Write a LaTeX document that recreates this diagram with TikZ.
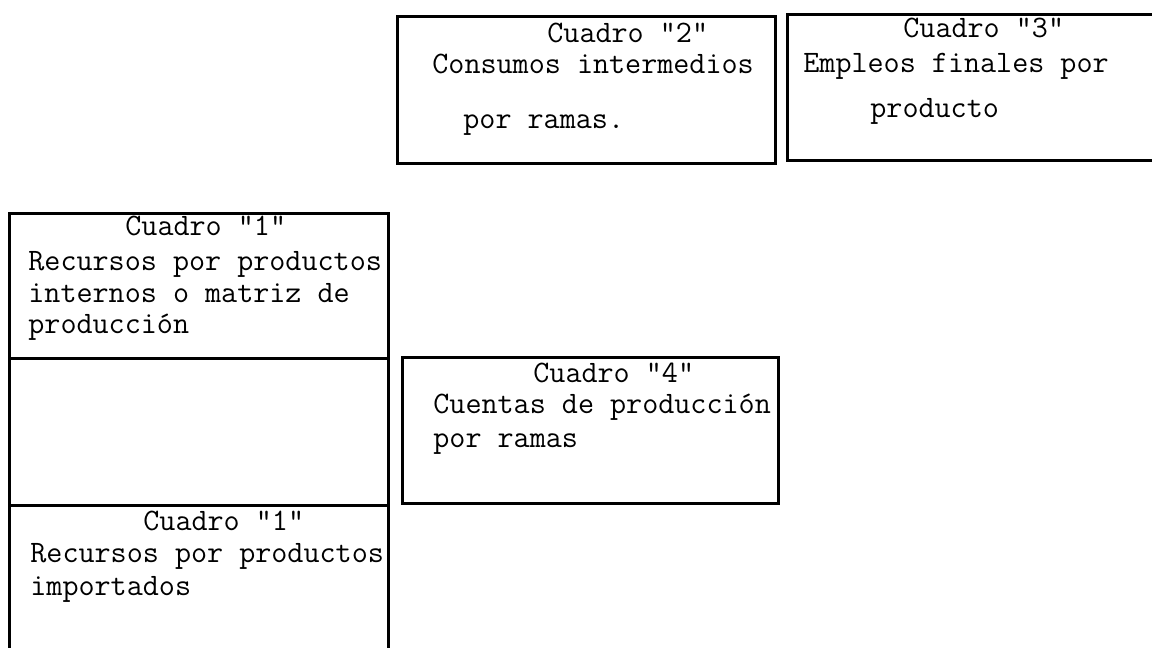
\documentclass[tikz,border=0pt]{standalone}
\usepackage{fontspec}
\tikzset{
  cuadro/.style={draw, rectangle, line width=1.5pt, inner sep=0pt},
  texto/.style={anchor=base west, inner sep=0pt, font=\ttfamily\fontsize{15.6}{15.6}\selectfont},
}
\begin{document}
\begin{tikzpicture}[x=0.5pt, y=-0.5pt]
  \useasboundingbox (0,0) rectangle (1152,648);
  % cuadros
  \node(c1a) [cuadro, minimum width=189.5pt, minimum height=72.5pt] at (198.5,285.5) {};
  \node(c1b) [cuadro, minimum width=189.5pt, minimum height=73.5pt] at (198.5,431.5) {};
  \node(c1c) [cuadro, minimum width=189.5pt, minimum height=87.5pt] at (198.5,592.5) {};
  \node(c2) [cuadro, minimum width=189pt, minimum height=73.5pt] at (586,89.5) {};
  \node(c3) [cuadro, minimum width=201.5pt, minimum height=73pt] at (988.5,87) {};
  \node(c4) [cuadro, minimum width=188pt, minimum height=73pt] at (590,430) {};
  % textos
  \node(t2a) [texto] at (547,42) {Cuadro "2"};
  \node(t2b) [texto] at (432,73) {Consumos intermedios};
  \node(t2c) [texto] at (463,128) {por ramas.};
  \node(t3a) [texto] at (903,37) {Cuadro "3"};
  \node(t3b) [texto] at (803,72) {Empleos finales por};
  \node(t3c) [texto] at (870,117) {producto};
  \node(t1a) [texto] at (125,235) {Cuadro "1"};
  \node(t1b) [texto] at (28,270) {Recursos por productos};
  \node(t1c) [texto] at (28,302) {internos o matriz de};
  \node(t1d) [texto] at (28,333) {producción};
  \node(t1e) [texto] at (143,530) {Cuadro "1"};
  \node(t1f) [texto] at (30,562) {Recursos por productos};
  \node(t1g) [texto] at (30,595) {importados};
  \node(t4a) [texto] at (533,382) {Cuadro "4"};
  \node(t4b) [texto] at (433,413) {Cuentas de producción};
  \node(t4c) [texto] at (433,447) {por ramas};
\end{tikzpicture}
\end{document}
